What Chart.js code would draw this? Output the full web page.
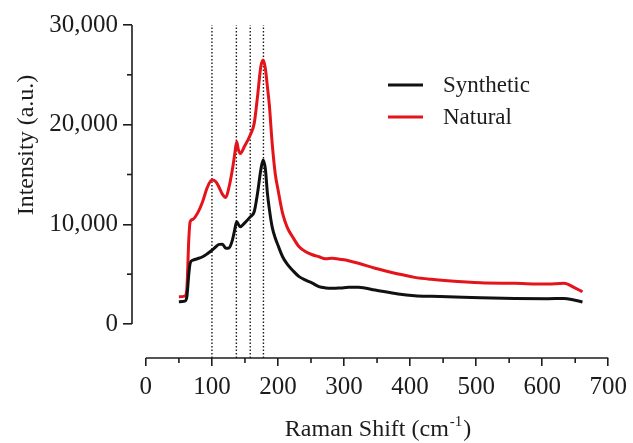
<!DOCTYPE html>
<html>
<head>
<meta charset="utf-8">
<script src="https://cdn.jsdelivr.net/npm/chart.js@4.4.1/dist/chart.umd.min.js"></script>
<style>
  html, body { margin: 0; padding: 0; background: #fff; }
  #wrap { width: 633px; height: 443px; position: relative; }
</style>
</head>
<body>
<div id="wrap"><canvas id="chartRaman"></canvas></div>
<script>
// ---- data ----
const ramanShift = [50, 59, 62, 65, 67, 71, 78, 86, 93, 100, 106, 111, 116, 121, 126, 131, 134, 137.5, 140, 143,
  149, 158, 164, 169, 174, 177.6, 181, 184, 187, 191, 196, 200, 207, 214, 222, 232, 242, 252, 262, 272,
  282, 295, 307, 322, 347, 382, 407, 432, 457, 507, 558, 608, 633, 648, 661];

const synthetic = [2240, 2300, 2700, 5000, 6100, 6400, 6550, 6750, 7050, 7400, 7750, 7990, 8000, 7600, 7650, 8420, 9300, 10250, 10000, 9760,
  10100, 10750, 11260, 13100, 15450, 16450, 15500, 13100, 11500, 9800, 8600, 7900, 6750, 6000, 5400, 4750, 4400, 4100, 3750, 3620,
  3580, 3620, 3680, 3680, 3410, 3010, 2840, 2780, 2740, 2640, 2570, 2540, 2570, 2410, 2210];

const natural = [2740, 2800, 3500, 8500, 10260, 10500, 11100, 12300, 13700, 14440, 14270, 13700, 13000, 12700, 13770, 15500, 16800, 18280, 17500, 17100,
  17780, 18960, 20130, 22800, 25810, 26480, 25600, 23800, 21900, 18300, 15000, 13500, 11100, 9700, 8760, 7750, 7250, 6950, 6750, 6550,
  6590, 6480, 6350, 6090, 5590, 5020, 4680, 4480, 4340, 4140, 4080, 4010, 4080, 3680, 3240];

const peakLines = [100, 137, 158, 178];

const xTicks = [0, 100, 200, 300, 400, 500, 600, 700];
const xMinorTicks = [50, 150, 250, 350, 450, 550, 650];
const yTicks = [0, 10000, 20000, 30000];
const yMinorTicks = [5000, 15000, 25000];

const X_MIN = -21, X_MAX = 700;
const Y_MIN = -3410, Y_MAX = 30000;

const FONT = "'Liberation Serif', 'Times New Roman', serif";
const INK = '#1c1c1c';

function toPoints(xs, ys) {
  return xs.map((x, i) => ({ x: x, y: ys[i] }));
}

// dotted markers for the peaks
const peakDatasets = peakLines.map(p => ({
  label: 'peak ' + p,
  data: [{ x: p, y: Y_MIN }, { x: p, y: Y_MAX }],
  borderColor: '#1a1a1a',
  borderWidth: 1.4,
  borderDash: [1.5, 2],
  pointRadius: 0,
  order: 10,
  inLegend: false
}));

// axes like the original: detached x axis, short y axis, minor ticks, titles, legend
const prismAxes = {
  id: 'prismAxes',
  afterDraw(chart) {
    const ctx = chart.ctx;
    const x = chart.scales.x, y = chart.scales.y;
    const area = chart.chartArea;
    ctx.save();
    ctx.strokeStyle = INK;
    ctx.lineWidth = 1.6;

    // y axis line (0 -> 30000)
    ctx.beginPath();
    ctx.moveTo(area.left, y.getPixelForValue(yTicks[yTicks.length - 1]));
    ctx.lineTo(area.left, y.getPixelForValue(yTicks[0]));
    ctx.stroke();
    yMinorTicks.forEach(v => {
      const py = y.getPixelForValue(v);
      ctx.beginPath();
      ctx.moveTo(area.left, py);
      ctx.lineTo(area.left - 5, py);
      ctx.stroke();
    });

    // x axis line (0 -> 700)
    ctx.beginPath();
    ctx.moveTo(x.getPixelForValue(xTicks[0]), area.bottom);
    ctx.lineTo(x.getPixelForValue(xTicks[xTicks.length - 1]), area.bottom);
    ctx.stroke();
    xMinorTicks.forEach(v => {
      const px = x.getPixelForValue(v);
      ctx.beginPath();
      ctx.moveTo(px, area.bottom);
      ctx.lineTo(px, area.bottom + 5);
      ctx.stroke();
    });

    // y title
    ctx.fillStyle = INK;
    ctx.font = '24px ' + FONT;
    ctx.textAlign = 'center';
    ctx.textBaseline = 'middle';
    ctx.save();
    ctx.translate(27, 145);
    ctx.rotate(-Math.PI / 2);
    ctx.fillText('Intensity (a.u.)', 0, 0);
    ctx.restore();

    // x title with superscript
    const main = 'Raman Shift (cm', sup = '-1', tail = ')';
    ctx.textAlign = 'left';
    ctx.textBaseline = 'alphabetic';
    ctx.font = '24px ' + FONT;
    const wMain = ctx.measureText(main).width;
    const wTail = ctx.measureText(tail).width;
    ctx.font = '15px ' + FONT;
    const wSup = ctx.measureText(sup).width;
    const cx = x.getPixelForValue(350);
    let tx = cx - (wMain + wSup + wTail) / 2;
    const base = 436;
    ctx.font = '24px ' + FONT;
    ctx.fillText(main, tx, base);
    tx += wMain;
    ctx.font = '15px ' + FONT;
    ctx.fillText(sup, tx + 1, base - 10);
    tx += wSup + 2;
    ctx.font = '24px ' + FONT;
    ctx.fillText(tail, tx, base);

    // legend
    const items = chart.data.datasets.filter(d => d.inLegend);
    ctx.font = '23px ' + FONT;
    ctx.textBaseline = 'middle';
    items.forEach((d, i) => {
      const ly = 85 + i * 32;
      ctx.strokeStyle = d.borderColor;
      ctx.lineWidth = 3;
      ctx.beginPath();
      ctx.moveTo(388, ly);
      ctx.lineTo(423, ly);
      ctx.stroke();
      ctx.fillStyle = INK;
      ctx.fillText(d.label, 443, ly + 1);
    });
    ctx.restore();
  }
};

new Chart(document.getElementById('chartRaman'), {
  type: 'line',
  data: {
    datasets: [
      {
        label: 'Synthetic',
        data: toPoints(ramanShift, synthetic),
        borderColor: '#111111',
        borderWidth: 3,
        pointRadius: 0,
        cubicInterpolationMode: 'monotone',
        order: 1,
        inLegend: true
      },
      {
        label: 'Natural',
        data: toPoints(ramanShift, natural),
        borderColor: '#e5141b',
        borderWidth: 3,
        pointRadius: 0,
        cubicInterpolationMode: 'monotone',
        order: 2,
        inLegend: true
      },
      ...peakDatasets
    ]
  },
  options: {
    responsive: true,
    maintainAspectRatio: false,
    animation: false,
    layout: { padding: { left: 0, top: 25, right: 22, bottom: 0 } },
    plugins: {
      legend: { display: false },
      tooltip: { enabled: false }
    },
    scales: {
      x: {
        type: 'linear',
        min: X_MIN,
        max: X_MAX,
        afterBuildTicks: s => { s.ticks = xTicks.map(v => ({ value: v })); },
        afterFit: s => { s.height = 85; },
        border: { display: false },
        grid: { drawOnChartArea: false, drawTicks: true, tickLength: 8, color: INK, lineWidth: 1.6 },
        ticks: {
          color: INK,
          padding: 6,
          maxRotation: 0,
          font: { family: FONT, size: 25 },
          callback: v => String(v)
        }
      },
      y: {
        type: 'linear',
        min: Y_MIN,
        max: Y_MAX,
        afterBuildTicks: s => { s.ticks = yTicks.map(v => ({ value: v })); },
        afterFit: s => { s.width = 132; },
        border: { display: false },
        grid: { drawOnChartArea: false, drawTicks: true, tickLength: 9, color: INK, lineWidth: 1.6 },
        ticks: {
          color: INK,
          padding: 5,
          font: { family: FONT, size: 25 },
          callback: v => v.toLocaleString('en-US')
        }
      }
    }
  },
  plugins: [prismAxes]
});
</script>
</body>
</html>
